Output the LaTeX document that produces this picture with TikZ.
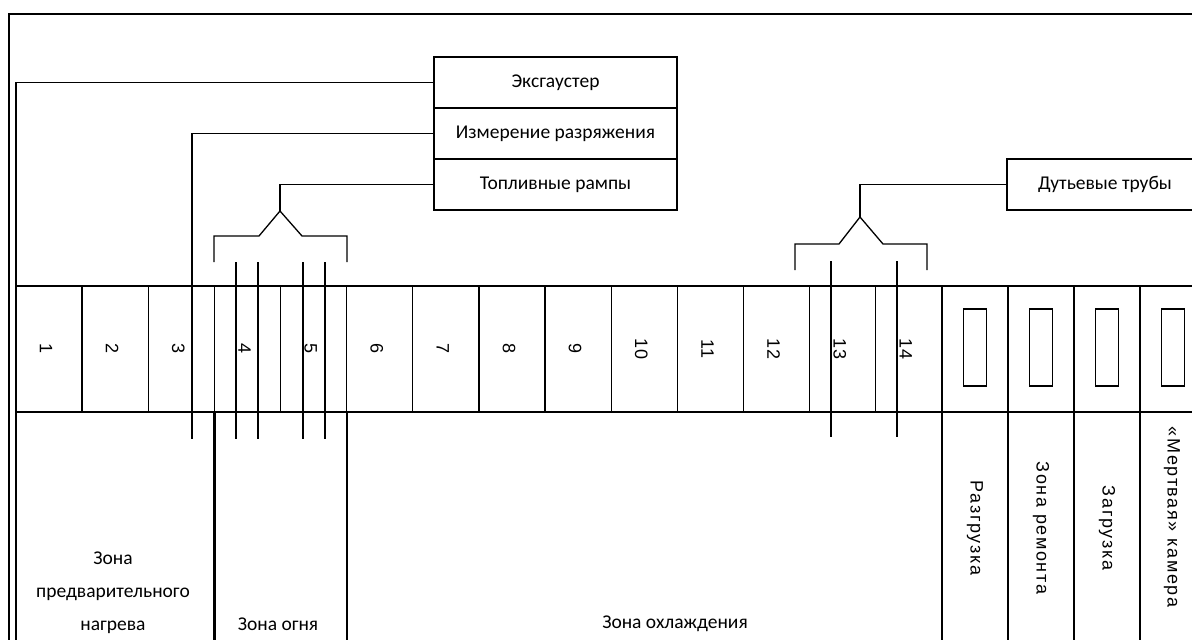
\documentclass[tikz,border=0pt]{standalone}
\usepackage{fontspec}
\setmainfont{Carlito}
\newfontfamily\numfont{Liberation Sans}
\newfontfamily\sidefont[LetterSpace=9]{Liberation Sans}
\usetikzlibrary{positioning}

\begin{document}
\begin{tikzpicture}[x=1pt,y=-1pt]
  \tikzstyle{every node}+=[inner sep=0pt, outer sep=0pt]
  \tikzstyle{wire}=[line width=1.3pt]
  \tikzstyle{burner}=[line width=2.4pt]
  \tikzstyle{cell}=[draw, line width=1.3pt, minimum width=66.14pt, minimum height=126pt]
  \tikzstyle{window}=[draw, line width=1.7pt, minimum width=23pt, minimum height=77pt]
  \tikzstyle{tag}=[draw, line width=1.4pt, minimum width=243pt, minimum height=51pt, font=\fontsize{19.5}{21}\selectfont]
  \tikzstyle{num}=[rotate=-90, font=\numfont\fontsize{18}{20}\selectfont]
  \tikzstyle{zone}=[align=center, font=\fontsize{19.5}{33}\selectfont]
  \tikzstyle{side}=[rotate=-90, font=\sidefont\fontsize{18}{20}\selectfont]
  \clip (0,0) rectangle (1192,640);
  % outer frame
  \draw[wire] (9,640) -- (9,14) -- (1210,14);
  % label boxes
  \node[tag] (exh) at (555.5,82.5) {Эксгаустер};
  \node[tag, below=0pt of exh] (meas) {Измерение разряжения};
  \node[tag, below=0pt of meas] (fuel) {Топливные рампы};
  \node[tag, minimum width=196pt] (blow) at (1105,184.5) {Дутьевые трубы};
  % chamber cells
  \foreach \i in {1,...,14} {
    \node[cell] (c\i) at ({16+66.14*(\i-0.5)},349) {};
    \node[num] at ([xshift=-3pt]c\i.center) {\i};
  }
  \foreach \i in {1,...,4} {
    \node[cell] (r\i) at ({942+66*(\i-0.5)},349) {};
    \node[window] (w\i) at ([yshift=1.5pt]r\i.center) {};
  }
  \draw[line width=2pt] (c1.north west) -- (1210,286);
  \draw[line width=2pt] (c1.south west) -- (1210,412);
  \draw[line width=2.6pt] (c1.north west) -- (c1.south west);
  \draw[line width=2pt] (c14.north east) -- (c14.south east);
  % zone borders
  \draw[wire] (exh.west) -| (16,640);
  \draw[burner] (c3.south east) -- +(0,228);
  \draw[burner] (c5.south east) -- +(0,228);
  \draw[burner] (c14.south east) -- +(0,228);
  \draw[line width=1.5pt] (r1.south east) -- +(0,228);
  \draw[line width=1.5pt] (r2.south east) -- +(0,228);
  \draw[line width=1.5pt] (r3.south east) -- +(0,228);
  % pressure probe
  \coordinate (probe) at (192,262);
  \draw[wire] (meas.west) -| (probe);
  \draw[burner] (probe) -- (192,439);
  % fuel ramps
  \coordinate (fuelapex) at (280,211);
  \draw[wire] (fuel.west) -| (fuelapex);
  \draw[wire] (214,262) -- (214,236) -- (259,236) -- (fuelapex) -- (302,236) -- (347,236) -- (347,262);
  \foreach \x in {236,258,303,325}
    \draw[burner] (\x,262) -- (\x,439);
  % blow pipes
  \coordinate (blowapex) at (860,217);
  \draw[wire] (blow.west) -| (blowapex);
  \draw[wire] (795,270) -- (795,244) -- (839,244) -- (blowapex) -- (883,244) -- (927,244) -- (927,270);
  \foreach \x in {831,897}
    \draw[burner] (\x,261) -- (\x,437);
  % zone names
  \node[zone] (zpre) at (113,593) {Зона\\предварительного\\нагрева};
  \node[zone] (zfire) at (278,624) {Зона огня};
  \node[zone] (zcool) at (675,624) {Зона охлаждения};
  \node[side] (zunload) at (975,528) {Разгрузка};
  \node[side] (zrepair) at (1041,528) {Зона ремонта};
  \node[side] (zload) at (1107,528) {Загрузка};
  \node[side] (zdead) at (1172,517) {«Мертвая» камера};
\end{tikzpicture}
\end{document}
